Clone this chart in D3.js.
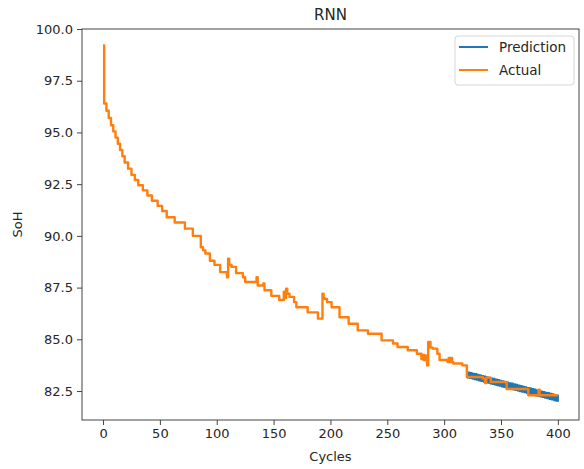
<!DOCTYPE html>
<html>
<head>
<meta charset="utf-8">
<script src="https://cdn.jsdelivr.net/npm/d3@7"></script>
<style>
  body { margin: 0; background: #fff; }
  text { font-family: "DejaVu Sans", sans-serif; fill: #262626; }
</style>
</head>
<body>
<div id="chart"></div>
<script>
const width = 584;
const height = 469;
const margin = { top: 29, right: 5, bottom: 49, left: 82 };

const title = 'RNN';
const xLabel = 'Cycles';
const yLabel = 'SoH';
const seriesNames = ['Prediction', 'Actual'];
const seriesColors = ['#1f77b4', '#ff7f0e'];

const xTicks = [0, 50, 100, 150, 200, 250, 300, 350, 400];
const yTicks = [82.5, 85.0, 87.5, 90.0, 92.5, 95.0, 97.5, 100.0];

// actual SoH, change points (value holds until the next cycle listed)
const actualCycles = [
  0, 1, 3, 5, 7, 9, 11, 13, 15, 17, 19, 22, 25, 28, 31, 35, 39, 43, 48, 52,
  56, 63, 72, 79, 86, 88, 90, 94, 98, 103, 109, 110, 111, 113, 117, 123, 125, 134,
  135, 136, 140, 141, 142, 148, 152, 155, 158, 159, 160, 161, 162, 164, 168, 170,
  180, 189, 193, 194, 195, 197, 201, 208, 216, 224, 233, 245, 255, 259, 268, 276,
  280, 281, 282, 283, 284, 285, 286, 288, 290, 294, 296, 303, 304, 305, 306, 307,
  308, 316, 320, 334, 336, 337, 341, 355, 374, 383, 384, 400
];
const actualValues = [
  99.2, 96.4, 96.05, 95.7, 95.35, 95.05, 94.75, 94.45, 94.15, 93.85, 93.55, 93.25,
  92.95, 92.7, 92.45, 92.2, 91.95, 91.7, 91.45, 91.2,
  90.9, 90.65, 90.35, 90.0, 89.45, 89.3, 89.15, 88.8, 88.6, 88.25, 88.0, 88.9, 88.6,
  88.5, 88.2, 88.0, 87.77, 87.77,
  88.0, 87.6, 87.6, 87.7, 87.37, 87.1, 87.1, 86.9, 86.9, 87.3, 87.0, 87.45, 87.2,
  87.05, 86.8, 86.55,
  86.3, 86.0, 87.2, 87.0, 86.95, 86.8, 86.55, 86.07, 85.75, 85.43, 85.27, 84.95,
  84.8, 84.63, 84.47, 84.3,
  84.05, 84.25, 84.0, 84.22, 84.0, 83.74, 84.87, 84.6, 84.55, 84.3, 84.0, 83.9,
  84.1, 83.9, 84.1, 83.9,
  83.83, 83.74, 83.18, 83.1, 82.89, 83.15, 82.94, 82.6, 82.3, 82.57, 82.3, 82.3
];

const predCycles = [
  320, 321, 322, 323, 324, 325, 326, 327, 328, 329, 330, 331, 332, 333, 334, 335,
  336, 337, 338, 339, 340, 341, 342, 343, 344, 345, 346, 347, 348, 349, 350, 351,
  352, 353, 354, 355, 356, 357, 358, 359, 360, 361, 362, 363, 364, 365, 366, 367,
  368, 369, 370, 371, 372, 373, 374, 375, 376, 377, 378, 379, 380, 381, 382, 383,
  384, 385, 386, 387, 388, 389, 390, 391, 392, 393, 394, 395, 396, 397, 398, 399,
  400, 400
];
const predValues = [
  83.47, 83.12, 83.44, 83.09, 83.41, 83.06, 83.38, 83.03, 83.36, 83.00, 83.33, 82.97,
  83.30, 82.94, 83.27, 82.91, 83.24, 82.89, 83.21, 82.86, 83.18, 82.83, 83.15, 82.80,
  83.13, 82.77, 83.10, 82.74, 83.07, 82.71, 83.04, 82.68, 83.01, 82.66, 82.98, 82.63,
  82.95, 82.60, 82.92, 82.57, 82.90, 82.54, 82.87, 82.51, 82.84, 82.48, 82.81, 82.45,
  82.78, 82.43, 82.75, 82.40, 82.72, 82.37, 82.69, 82.34, 82.67, 82.31, 82.64, 82.28,
  82.61, 82.25, 82.58, 82.22, 82.55, 82.20, 82.52, 82.17, 82.49, 82.14, 82.46, 82.11,
  82.44, 82.08, 82.41, 82.05, 82.38, 82.02, 82.35, 81.99, 82.32, 81.98
];

const svg = d3.select('#chart')
  .append('svg')
  .attr('width', width)
  .attr('height', height);

const x = d3.scaleLinear()
  .domain([-18.5, 418.6])
  .range([margin.left, width - margin.right]);

const y = d3.scaleLinear()
  .domain([81.1, 100.0])
  .range([height - margin.bottom, margin.top]);

const actual = actualCycles.map((c, i) => [c, actualValues[i]]);
const pred = predCycles.map((c, i) => [c, predValues[i]]);

const plot = svg.append('g');

plot.append('path')
  .datum(pred)
  .attr('fill', 'none')
  .attr('stroke', seriesColors[0])
  .attr('stroke-width', 2.2)
  .attr('d', d3.line().x((d) => x(d[0])).y((d) => y(d[1])));

plot.append('path')
  .datum(actual)
  .attr('fill', 'none')
  .attr('stroke', seriesColors[1])
  .attr('stroke-width', 2.4)
  .attr('stroke-linejoin', 'round')
  .attr('d', d3.line().curve(d3.curveStepAfter).x((d) => x(d[0])).y((d) => y(d[1])));

// frame
svg.append('rect')
  .attr('x', margin.left)
  .attr('y', margin.top)
  .attr('width', width - margin.left - margin.right)
  .attr('height', height - margin.top - margin.bottom)
  .attr('fill', 'none')
  .attr('stroke', '#444')
  .attr('stroke-width', 1);

const xAxis = d3.axisBottom(x).tickValues(xTicks).tickFormat(d3.format('d'))
  .tickSize(5).tickPadding(4);
const yAxis = d3.axisLeft(y).tickValues(yTicks).tickFormat(d3.format('.1f'))
  .tickSize(5).tickPadding(4);

svg.append('g')
  .attr('transform', `translate(0, ${height - margin.bottom})`)
  .call(xAxis)
  .call((g) => g.select('.domain').remove());

svg.append('g')
  .attr('transform', `translate(${margin.left}, 0)`)
  .call(yAxis)
  .call((g) => g.select('.domain').remove());

svg.selectAll('.tick line').attr('stroke', '#444');
svg.selectAll('.tick text')
  .style('font-family', '"DejaVu Sans", sans-serif')
  .style('font-size', '13px')
  .attr('fill', '#262626');

svg.append('text')
  .attr('x', (margin.left + width - margin.right) / 2)
  .attr('y', 20)
  .attr('text-anchor', 'middle')
  .style('font-size', '15px')
  .text(title);

svg.append('text')
  .attr('x', (margin.left + width - margin.right) / 2)
  .attr('y', 461)
  .attr('text-anchor', 'middle')
  .style('font-size', '13px')
  .text(xLabel);

svg.append('text')
  .attr('transform', `translate(22, ${(margin.top + height - margin.bottom) / 2}) rotate(-90)`)
  .attr('text-anchor', 'middle')
  .style('font-size', '13px')
  .text(yLabel);

// legend
const legend = svg.append('g').attr('transform', 'translate(455, 36)');
legend.append('rect')
  .attr('width', 119)
  .attr('height', 49)
  .attr('rx', 3)
  .attr('fill', '#fff')
  .attr('fill-opacity', 0.8)
  .attr('stroke', '#d6d6d6');

seriesNames.forEach((name, i) => {
  const row = legend.append('g').attr('transform', `translate(0, ${11 + i * 23})`);
  row.append('line')
    .attr('x1', 4).attr('x2', 33)
    .attr('stroke', seriesColors[i])
    .attr('stroke-width', 2);
  row.append('text')
    .attr('x', 44)
    .attr('y', 5)
    .style('font-size', '13.5px')
    .text(name);
});
</script>
</body>
</html>
